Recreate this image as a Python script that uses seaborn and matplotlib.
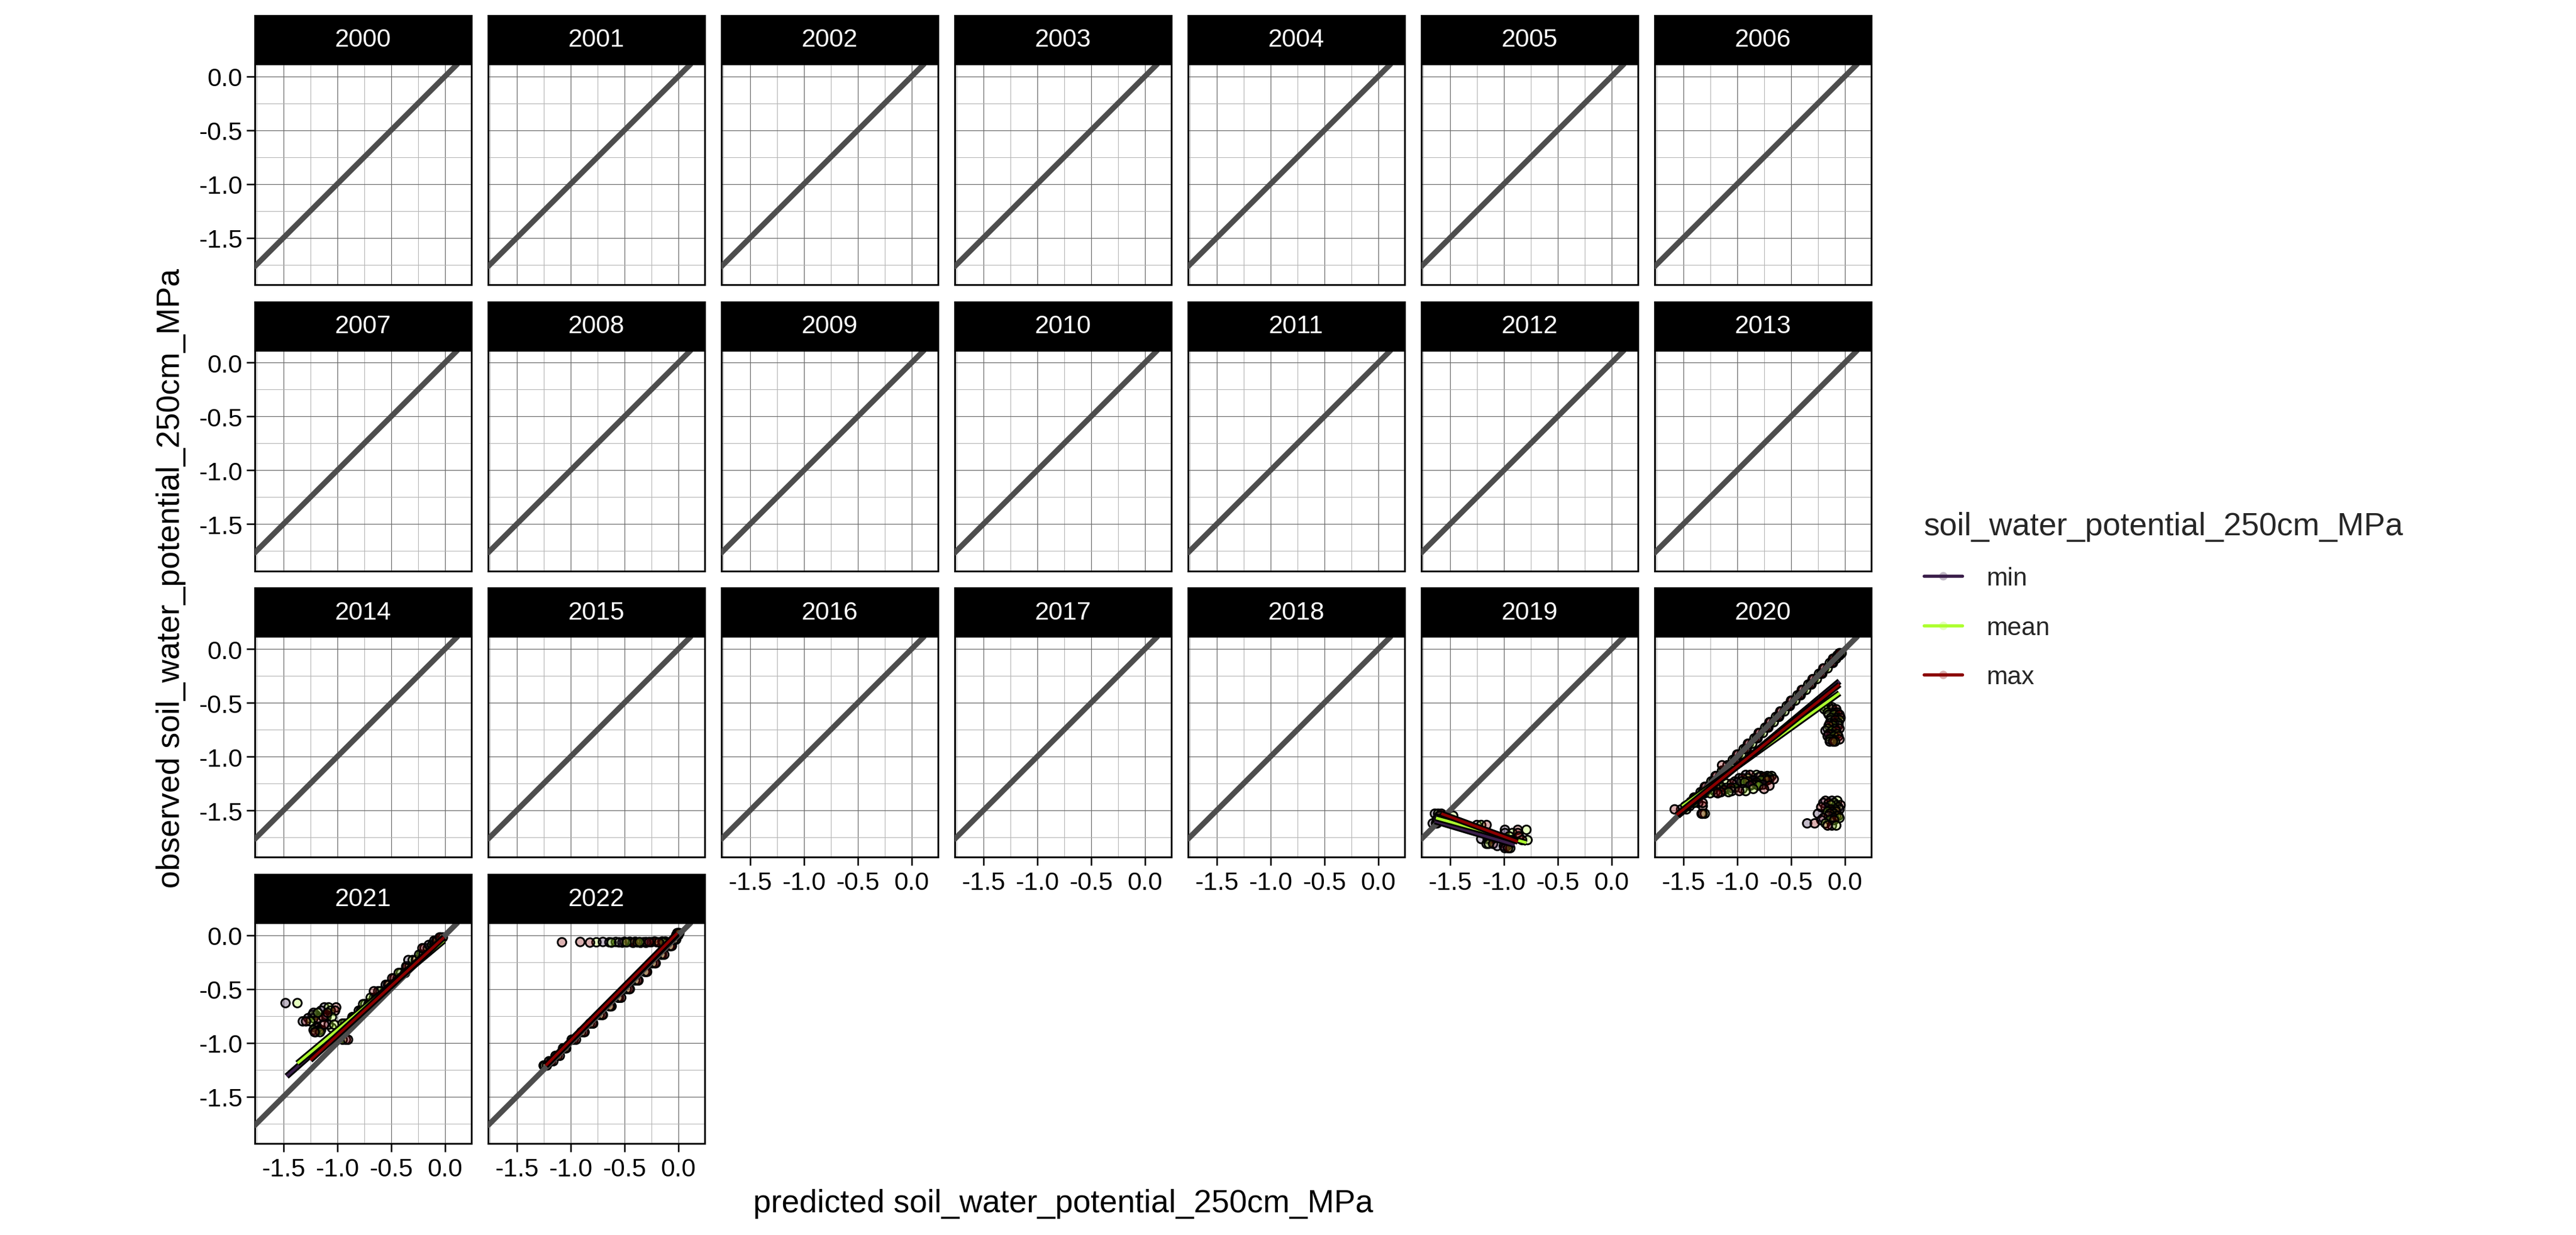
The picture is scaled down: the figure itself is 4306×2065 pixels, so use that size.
import numpy as np
import pandas as pd
import matplotlib
matplotlib.use("Agg")
import matplotlib.pyplot as plt
import matplotlib.patheffects as pe
from matplotlib.lines import Line2D
from matplotlib.ticker import FixedLocator
import seaborn as sns

# ---------------- data ----------------
years = list(range(2000, 2023))
groups = ["min", "mean", "max"]
group_colors = ["#3B1F4B", "#ADFF2F", "#8B0000"]
x_ticks = [-1.5, -1.0, -0.5, 0.0]
x_tick_labels = ["-1.5", "-1.0", "-0.5", "0.0"]
y_ticks = [-1.5, -1.0, -0.5, 0.0]
y_tick_labels = ["-1.5", "-1.0", "-0.5", "0.0"]

# observations: observed value and predicted min / mean / max
obs_2019 = [-1.53, -1.55, -1.62, -1.635, -1.68, -1.71, -1.74, -1.765, -1.775, -1.81, -1.83, -1.85, -1.58]
pmin_2019 = [-1.64, -1.60, -1.66, -1.25, -0.99, -0.99, -1.10, -1.21, -0.93, -1.16, -1.06, -0.99, -1.62]
pmean_2019 = [-1.61, -1.47, -1.63, -1.21, -0.79, -0.92, -0.95, -1.15, -0.78, -1.14, -0.97, -0.94, -1.59]
pmax_2019 = [-1.58, -1.55, -1.62, -1.16, -0.87, -0.87, -0.86, -1.13, -0.83, -1.10, -1.00, -0.96, -1.57]

obs_2020 = [-1.49, -1.46, -1.42, -1.38, -1.33, -1.28, -1.23, -1.18, -1.13, -1.08, -1.03,
            -0.98, -0.93, -0.88, -0.83, -0.78, -0.73, -0.68, -0.63, -0.58, -0.53, -0.48,
            -0.43, -0.38, -0.33, -0.28, -0.23, -0.18, -0.13, -0.09, -0.06, -0.04,
            -1.53, -1.43,
            -1.17, -1.18, -1.19, -1.20, -1.21, -1.22, -1.23, -1.24, -1.25, -1.26, -1.27,
            -1.28, -1.29, -1.30, -1.31, -1.32, -1.33, -1.34,
            -0.54, -0.56, -0.59, -0.61, -0.64, -0.66, -0.69, -0.71, -0.74, -0.76, -0.79,
            -0.81, -0.84, -0.86,
            -1.41, -1.43, -1.45, -1.47, -1.49, -1.51, -1.53, -1.55, -1.57, -1.59, -1.62, -1.64]
pmin_2020 = [-1.52, -1.44, -1.40, -1.39, -1.31, -1.29, -1.21, -1.19, -1.11, -1.09, -1.01,
             -0.99, -0.91, -0.89, -0.81, -0.79, -0.71, -0.69, -0.61, -0.59, -0.51, -0.49,
             -0.41, -0.39, -0.31, -0.29, -0.21, -0.19, -0.11, -0.10, -0.05, -0.05,
             -1.33, -1.36,
             -0.92, -0.72, -0.80, -0.98, -0.70, -0.85, -1.02, -1.00, -1.18, -0.76, -0.88,
             -1.25, -1.10, -0.95, -1.28, -1.05, -1.20, -1.30,
             -0.18, -0.12, -0.10, -0.15, -0.08, -0.13, -0.14, -0.06, -0.09, -0.18, -0.12,
             -0.16, -0.11, -0.14,
             -0.12, -0.20, -0.08, -0.18, -0.05, -0.12, -0.25, -0.15, -0.10, -0.22, -0.35, -0.12]
pmean_2020 = [-1.47, -1.48, -1.43, -1.36, -1.34, -1.26, -1.24, -1.16, -1.14, -1.06, -1.04,
              -0.96, -0.94, -0.86, -0.84, -0.76, -0.74, -0.66, -0.64, -0.56, -0.54, -0.46,
              -0.44, -0.36, -0.34, -0.26, -0.24, -0.16, -0.14, -0.08, -0.07, -0.03,
              -1.30, -1.40,
              -0.82, -0.68, -0.70, -0.90, -0.74, -0.78, -0.96, -0.93, -1.10, -0.82, -0.80,
              -1.15, -1.02, -0.85, -1.22, -0.92, -1.08, -1.25,
              -0.15, -0.19, -0.16, -0.10, -0.13, -0.05, -0.06, -0.11, -0.16, -0.12, -0.07,
              -0.10, -0.14, -0.09,
              -0.07, -0.10, -0.13, -0.06, -0.09, -0.16, -0.10, -0.08, -0.05, -0.14, -0.18, -0.08]
pmax_2020 = [-1.58, -1.32, -1.41, -1.40, -1.32, -1.30, -1.22, -1.20, -1.12, -1.14, -1.02,
             -1.00, -0.92, -0.90, -0.82, -0.80, -0.72, -0.70, -0.62, -0.60, -0.52, -0.50,
             -0.42, -0.40, -0.32, -0.30, -0.22, -0.20, -0.12, -0.11, -0.06, -0.05,
             -1.32, -1.32,
             -0.88, -0.78, -0.75, -0.95, -0.66, -0.72, -0.90, -0.82, -1.05, -0.86, -0.70,
             -1.20, -1.06, -0.75, -1.12, -0.98, -1.15, -1.18,
             -0.12, -0.08, -0.07, -0.05, -0.04, -0.09, -0.10, -0.15, -0.05, -0.08, -0.15,
             -0.06, -0.05, -0.11,
             -0.18, -0.15, -0.04, -0.22, -0.13, -0.08, -0.14, -0.06, -0.20, -0.10, -0.28, -0.16]

obs_2021 = [-0.63, -0.67, -0.70, -0.74, -0.77, -0.80, -0.76, -0.86, -0.88, -0.90, -0.97, -0.72, -0.83,
            -0.82, -0.76, -0.70, -0.64, -0.58, -0.52, -0.46, -0.40, -0.35, -0.29, -0.23,
            -0.18, -0.12, -0.09, -0.05, -0.02]
pmin_2021 = [-1.48, -1.12, -1.15, -1.20, -1.27, -1.32, -1.10, -1.20, -1.17, -1.20, -0.92, -1.22, -1.08,
             -0.93, -0.86, -0.80, -0.74, -0.66, -0.62, -0.55, -0.47, -0.41, -0.35, -0.34,
             -0.22, -0.19, -0.15, -0.10, -0.04]
pmean_2021 = [-1.37, -1.08, -1.06, -1.23, -1.22, -1.25, -1.05, -1.05, -1.22, -1.16, -0.95, -1.18, -1.03,
              -0.95, -0.83, -0.78, -0.76, -0.69, -0.60, -0.52, -0.44, -0.43, -0.33, -0.30,
              -0.24, -0.16, -0.12, -0.07, -0.02]
pmax_2021 = [-0.70, -1.01, -1.02, -1.10, -1.18, -1.29, -1.13, -1.18, -1.15, -1.21, -0.90, -1.09, -1.12,
             -0.90, -0.85, -0.76, -0.71, -0.64, -0.66, -0.53, -0.49, -0.37, -0.36, -0.27,
             -0.20, -0.21, -0.10, -0.08, -0.05]

obs_2022 = [-0.065, -0.062, -0.068, -0.060, -0.070, -0.064, -0.058, -0.066, -0.063, -0.067,
            -1.21, -1.17, -1.12, -1.05, -0.97, -0.90, -0.82, -0.74, -0.66, -0.58,
            -0.50, -0.42, -0.34, -0.26, -0.18, -0.10, -0.04, 0.00, 0.02]
pmin_2022 = [-0.64, -0.70, -0.52, -0.45, -0.35, -0.25, -0.15, -0.55, -0.30, -0.10,
             -1.25, -1.20, -1.14, -1.07, -0.97, -0.88, -0.80, -0.71, -0.62, -0.55,
             -0.46, -0.38, -0.30, -0.22, -0.15, -0.07, -0.03, -0.01, -0.01]
pmean_2022 = [-0.76, -0.58, -0.62, -0.40, -0.30, -0.20, -0.12, -0.48, -0.36, -0.14,
              -1.24, -1.18, -1.12, -1.04, -0.99, -0.90, -0.82, -0.73, -0.64, -0.56,
              -0.48, -0.40, -0.31, -0.24, -0.16, -0.08, -0.02, 0.00, 0.01]
pmax_2022 = [-1.08, -0.91, -0.82, -0.50, -0.42, -0.32, -0.22, -0.38, -0.27, -0.18,
             -1.22, -1.16, -1.10, -1.05, -0.95, -0.87, -0.79, -0.70, -0.63, -0.53,
             -0.45, -0.37, -0.29, -0.21, -0.13, -0.06, -0.04, -0.02, 0.00]

# fitted lines per year: [x_start, y_start, x_end, y_end]
fit_years = [2019, 2020, 2021, 2022]
fit_min = [[-1.64, -1.60, -0.90, -1.82], [-1.55, -1.55, -0.05, -0.30],
           [-1.47, -1.31, -0.01, -0.02], [-1.23, -1.21, -0.01, 0.02]]
fit_mean = [[-1.63, -1.57, -0.79, -1.80], [-1.51, -1.46, -0.05, -0.41],
            [-1.37, -1.19, -0.01, -0.05], [-1.22, -1.20, -0.01, 0.01]]
fit_max = [[-1.58, -1.53, -0.87, -1.79], [-1.56, -1.54, -0.05, -0.33],
           [-1.25, -1.16, -0.01, -0.02], [-1.23, -1.21, -0.01, 0.02]]

# ---------------- tidy tables ----------------
point_sets = {
    2019: (obs_2019, pmin_2019, pmean_2019, pmax_2019),
    2020: (obs_2020, pmin_2020, pmean_2020, pmax_2020),
    2021: (obs_2021, pmin_2021, pmean_2021, pmax_2021),
    2022: (obs_2022, pmin_2022, pmean_2022, pmax_2022),
}
rows = []
for yr, (ob, pmn, pme, pmx) in point_sets.items():
    for o, a, b, c in zip(ob, pmn, pme, pmx):
        rows.append((yr, "min", a, o))
        rows.append((yr, "mean", b, o))
        rows.append((yr, "max", c, o))
points = pd.DataFrame(rows, columns=["year", "group", "predicted", "observed"])

frows = []
for yr, fmn, fme, fmx in zip(fit_years, fit_min, fit_mean, fit_max):
    for g, f in zip(groups, (fmn, fme, fmx)):
        frows.append((yr, g, f[0], f[1]))
        frows.append((yr, g, f[2], f[3]))
fits = pd.DataFrame(frows, columns=["year", "group", "predicted", "observed"])

# ---------------- style ----------------
sns.set_theme(style="white")
plt.rcParams["font.family"] = ["Liberation Sans", "DejaVu Sans"]
plt.rcParams["axes.unicode_minus"] = False

line_pal = dict(zip(groups, group_colors))
fill_pal = {g: matplotlib.colors.to_rgba(c, 0.3) for g, c in zip(groups, group_colors)}

W, H, DPI = 4306, 2066, 300
fig = plt.figure(figsize=(W / DPI, (H - 0.01) / DPI), dpi=DPI)
fig.patch.set_facecolor("white")

NCOL = 7
PW, PH = 362, 369
COL_STEP, ROW_STEP = 390, 478.7
LEFT0, TOP0 = 426, 108
STRIP_H = 81
XLIM = (-1.765, 0.245)
YLIM = (-1.935, 0.115)
TICK_FS = 10.2
TITLE_FS = 12.8

n = len(years)
for i, yr in enumerate(years):
    r, c = divmod(i, NCOL)
    left = LEFT0 + COL_STEP * c
    top = TOP0 + ROW_STEP * r
    ax = fig.add_axes([left / W, 1 - (top + PH) / H, PW / W, PH / H])
    sax = fig.add_axes([left / W, 1 - top / H, PW / W, STRIP_H / H])

    ax.set_xlim(*XLIM)
    ax.set_ylim(*YLIM)
    ax.set_facecolor("white")
    ax.xaxis.set_major_locator(FixedLocator(x_ticks))
    ax.yaxis.set_major_locator(FixedLocator(y_ticks))
    ax.xaxis.set_minor_locator(FixedLocator([-1.75, -1.25, -0.75, -0.25]))
    ax.yaxis.set_minor_locator(FixedLocator([-1.75, -1.25, -0.75, -0.25]))
    ax.grid(which="major", color="#6b6b6b", lw=0.3)
    ax.grid(which="minor", color="#b4b4b4", lw=0.25)
    ax.set_axisbelow(True)

    sub = points[points["year"] == yr]
    if len(sub):
        sns.scatterplot(data=sub, x="predicted", y="observed", hue="group",
                        hue_order=groups, palette=fill_pal, edgecolor="black",
                        linewidth=0.7, s=12, legend=False, ax=ax, zorder=2)

    ax.axline((0, 0), slope=1, color="#4D4D4D", lw=2.2, zorder=3)

    fsub = fits[fits["year"] == yr]
    if len(fsub):
        n_before = len(ax.lines)
        sns.lineplot(data=fsub, x="predicted", y="observed", hue="group",
                     hue_order=groups, palette=line_pal, estimator=None, sort=False,
                     lw=1.1, legend=False, ax=ax, zorder=4)
        for ln in ax.lines[n_before:]:
            ln.set_path_effects([pe.Stroke(linewidth=2.5, foreground="black"), pe.Normal()])
            ln.set_solid_capstyle("butt")

    ax.set_xlabel("")
    ax.set_ylabel("")
    for sp in ax.spines.values():
        sp.set_visible(True)
        sp.set_color("black")
        sp.set_linewidth(0.7)

    is_bottom = (i + NCOL) >= n
    is_left = c == 0
    ax.tick_params(which="minor", length=0)
    ax.tick_params(axis="x", which="major", bottom=is_bottom, labelbottom=is_bottom,
                   direction="out", length=3.4, width=0.6, color="black",
                   labelsize=TICK_FS, labelcolor="black", pad=2.0)
    ax.tick_params(axis="y", which="major", left=is_left, labelleft=is_left,
                   direction="out", length=3.4, width=0.6, color="black",
                   labelsize=TICK_FS, labelcolor="black", pad=1.5)
    if is_bottom:
        ax.set_xticklabels(x_tick_labels)
    if is_left:
        ax.set_yticklabels(y_tick_labels)

    sax.set_facecolor("black")
    sax.set_xticks([])
    sax.set_yticks([])
    for sp in sax.spines.values():
        sp.set_color("black")
        sp.set_linewidth(0.7)
    sax.text(0.5, 0.5, str(yr), color="white", fontsize=TICK_FS,
             ha="center", va="center", transform=sax.transAxes)

fig.text(1777 / W, 1 - 2013 / H, "predicted soil_water_potential_250cm_MPa",
         ha="center", va="center", fontsize=TITLE_FS, color="black")
fig.text(286 / W, 1 - 967 / H, "observed soil_water_potential_250cm_MPa",
         ha="center", va="center", rotation=90, fontsize=TITLE_FS, color="black")

handles = [Line2D([0], [0], color=col, lw=1.3, marker="o", markersize=3.4,
                  markerfacecolor=matplotlib.colors.to_rgba(col, 0.3),
                  markeredgecolor="none") for col in group_colors]
leg = fig.legend(handles, groups, title="soil_water_potential_250cm_MPa",
                 loc="upper left", bbox_to_anchor=(3186 / W, 1 - 826 / H),
                 frameon=False, fontsize=TICK_FS, title_fontsize=TITLE_FS,
                 handlelength=1.5, handletextpad=0.95, labelspacing=1.0,
                 borderpad=0.7, borderaxespad=0, alignment="left", numpoints=1)

fig.savefig("out.png", dpi=DPI, facecolor="white")
